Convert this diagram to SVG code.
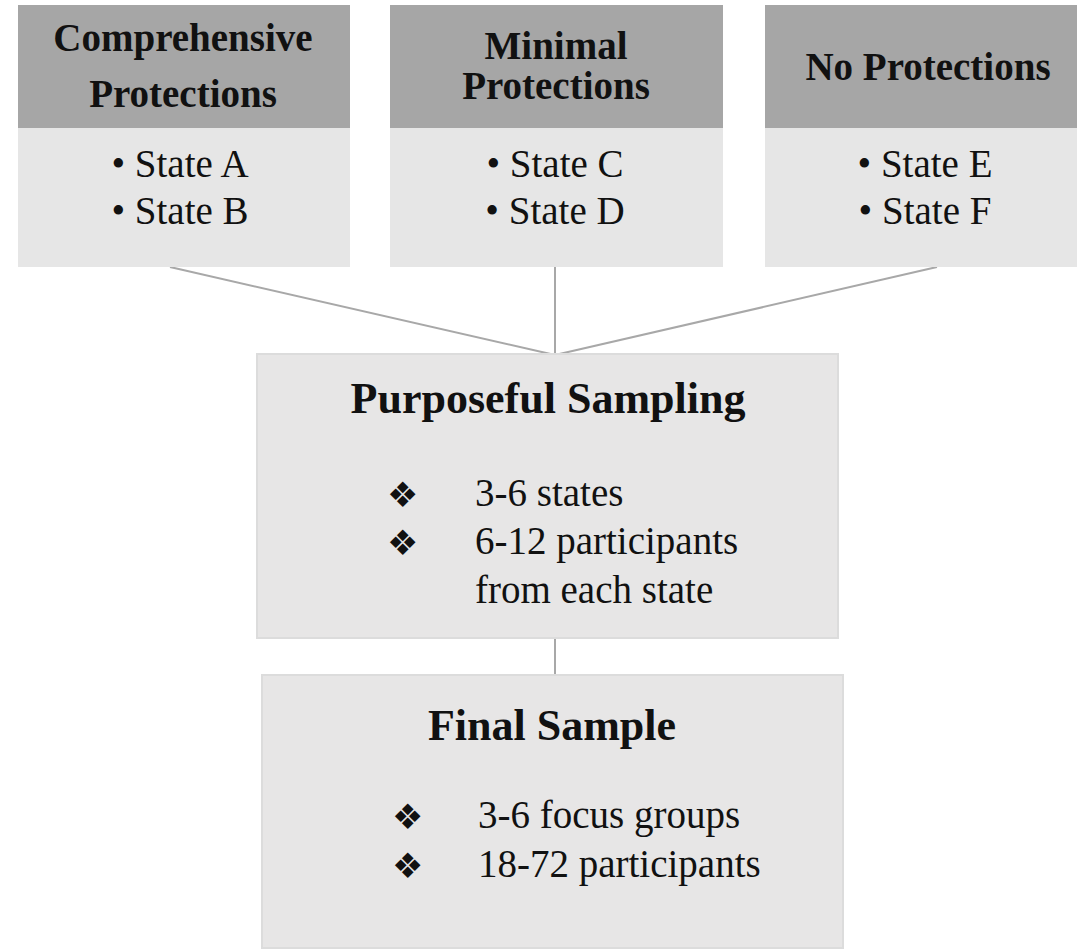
<svg xmlns="http://www.w3.org/2000/svg" width="1091" height="950" viewBox="0 0 1091 950">
<style>
.hdr{fill:#a6a6a6}
.body{fill:#e6e6e6}
.box{fill:#e7e6e6;stroke:#dcdcdc;stroke-width:2}
.t{font-family:"Liberation Serif","Times New Roman",serif;fill:#111}
.h{font-weight:bold;font-size:39px;text-anchor:middle}
.s{font-size:39px;text-anchor:middle}
.title{font-weight:bold;font-size:44px;text-anchor:middle}
.b{font-size:39px}
.d{font-family:"DejaVu Sans",sans-serif;font-size:35px;fill:#111}
.conn{stroke:#a8a8a8;stroke-width:2;fill:none}
</style>
<rect width="1091" height="950" fill="#ffffff"/>
<g id="connectors">
<line class="conn" x1="170" y1="267" x2="555" y2="355"/>
<line class="conn" x1="555" y1="267" x2="555" y2="355"/>
<line class="conn" x1="937" y1="267" x2="555" y2="355"/>
<line class="conn" x1="555" y1="638" x2="555" y2="675"/>
</g>
<g id="comprehensive">
<rect class="body" x="18" y="128" width="332" height="139"/>
<rect class="hdr" x="18" y="5" width="332" height="123"/>
<text class="t h" x="183" y="51">Comprehensive</text>
<text class="t h" x="183" y="107">Protections</text>
<text class="t s" x="180" y="177">• State A</text>
<text class="t s" x="180" y="224">• State B</text>
</g>
<g id="minimal">
<rect class="body" x="390" y="128" width="333" height="139"/>
<rect class="hdr" x="390" y="5" width="333" height="123"/>
<text class="t h" x="556" y="59">Minimal</text>
<text class="t h" x="556" y="99">Protections</text>
<text class="t s" x="555" y="177">• State C</text>
<text class="t s" x="555" y="224">• State D</text>
</g>
<g id="none">
<rect class="body" x="765" y="128" width="312" height="139"/>
<rect class="hdr" x="765" y="5" width="312" height="123"/>
<text class="t h" x="928" y="80">No Protections</text>
<text class="t s" x="925" y="177">• State E</text>
<text class="t s" x="925" y="224">• State F</text>
</g>
<g id="purposeful">
<rect class="box" x="257" y="354" width="581" height="284"/>
<text class="t title" x="548" y="413">Purposeful Sampling</text>
<text class="d" x="387" y="507">❖</text>
<text class="t b" x="475" y="506">3-6 states</text>
<text class="d" x="387" y="555">❖</text>
<text class="t b" x="475" y="554">6-12 participants</text>
<text class="t b" x="475" y="603">from each state</text>
</g>
<g id="final">
<rect class="box" x="262" y="675" width="581" height="273"/>
<text class="t title" x="552" y="740">Final Sample</text>
<text class="d" x="392" y="829">❖</text>
<text class="t b" x="478" y="828">3-6 focus groups</text>
<text class="d" x="392" y="878">❖</text>
<text class="t b" x="478" y="877">18-72 participants</text>
</g>
</svg>
